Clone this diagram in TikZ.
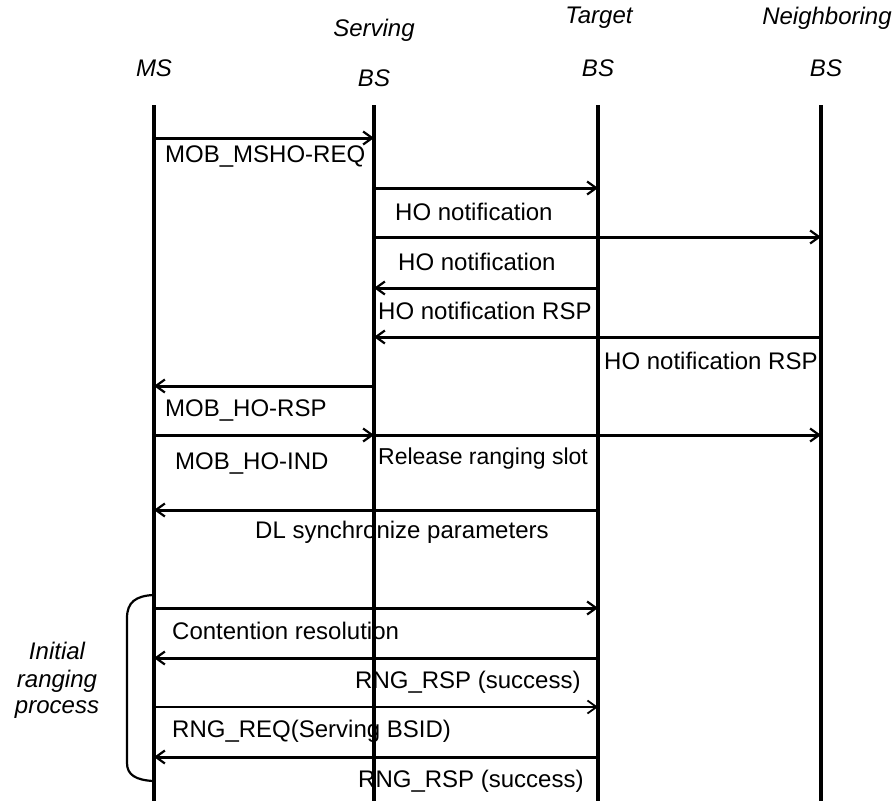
\documentclass[tikz,border=0pt]{standalone}
\usepackage{fontspec}
\setmainfont{Liberation Sans}
\usetikzlibrary{arrows.meta}

\begin{document}
\begin{tikzpicture}[x=1pt,y=-1pt,
  lifeline/.style={line width=3.2pt},
  msg/.style={line width=3pt,-{Straight Barb[length=9pt,width=13pt,line width=2.2pt]}},
  thinmsg/.style={line width=1.8pt,-{Straight Barb[length=9pt,width=13pt,line width=1.8pt]}},
  lbl/.style={anchor=west,inner sep=0pt,font=\fontsize{24}{27}\selectfont},
  head/.style={inner sep=0pt,font=\fontsize{24}{28}\selectfont\itshape},
  bracket/.style={line width=2.2pt}]
  \useasboundingbox (0,0) rectangle (895,801);

  % headers
  \node[head] (hms) at (154,68) {MS};
  \node[head] (hsbs1) at (374,30) {Serving};
  \node[head] (hsbs2) at (374,78) {BS};
  \node[head] (htbs1) at (599,18) {Target};
  \node[head] (htbs2) at (598,68) {BS};
  \node[head] (hnbs1) at (827,18) {Neighboring};
  \node[head] (hnbs2) at (826,68) {BS};

  % lifelines
  \coordinate (ms) at (154,105);
  \coordinate (sbs) at (374,105);
  \coordinate (tbs) at (598,105);
  \coordinate (nbs) at (821,105);
  \coordinate (msE) at (154,801);
  \coordinate (sbsE) at (374,801);
  \coordinate (tbsE) at (598,801);
  \coordinate (nbsE) at (821,801);
  \draw[lifeline] (ms) -- (msE);
  \draw[lifeline] (sbs) -- (sbsE);
  \draw[lifeline] (tbs) -- (tbsE);
  \draw[line width=4.2pt] (nbs) -- (nbsE);

  % messages
  \draw[msg] (ms |- 0,138) -- (sbs |- 0,138);
  \node[lbl] (l1) at (165,157) {MOB\_MSHO-REQ};

  \draw[msg] (sbs |- 0,188) -- (tbs |- 0,188);
  \node[lbl] (l2) at (395,212) {HO notification};

  \draw[msg] (sbs |- 0,237) -- (nbs |- 0,237);
  \node[lbl] (l3) at (398,262) {HO notification};

  \draw[msg] (tbs |- 0,288) -- (sbs |- 0,288);
  \node[lbl] (l4) at (378,311) {HO notification RSP};

  \draw[msg] (nbs |- 0,337) -- (sbs |- 0,337);
  \node[lbl] (l5) at (604,361) {HO notification RSP};

  \draw[msg] (sbs |- 0,386) -- (ms |- 0,386);
  \node[lbl] (l6) at (165,410) {MOB\_HO-RSP};

  \draw[msg] (ms |- 0,435) -- (sbs |- 0,435);
  \draw[msg] (sbs |- 0,435) -- (nbs |- 0,435);
  \node[lbl] (l7) at (175,463) {MOB\_HO-IND};
  \node[lbl,font=\fontsize{23}{26}\selectfont] (l8) at (378,459) {Release ranging slot};

  \draw[msg] (tbs |- 0,510) -- (ms |- 0,510);
  \node[lbl] (l9) at (255,532) {DL synchronize parameters};

  \draw[msg] (ms |- 0,608) -- (tbs |- 0,608);
  \node[lbl] (l10) at (172,631) {Contention resolution};

  \draw[msg] (tbs |- 0,658) -- (ms |- 0,658);
  \node[lbl] (l11) at (355,682) {RNG\_RSP (success)};

  \draw[thinmsg] (ms |- 0,707) -- (tbs |- 0,707);
  \node[lbl] (l12) at (172,731) {RNG\_REQ(Serving BSID)};

  \draw[msg] (tbs |- 0,757) -- (ms |- 0,757);
  \node[lbl] (l13) at (358,781) {RNG\_RSP (success)};

  % bracket for the initial ranging process
  \draw[bracket] (153,595) .. controls (136,596) and (127,602) .. (127,618)
    -- (127,763) .. controls (127,775) and (136,780) .. (153,781);
  \node[head] (r1) at (57,651) {Initial};
  \node[head] (r2) at (57,681) {ranging};
  \node[head] (r3) at (57,710) {process};
\end{tikzpicture}
\end{document}
